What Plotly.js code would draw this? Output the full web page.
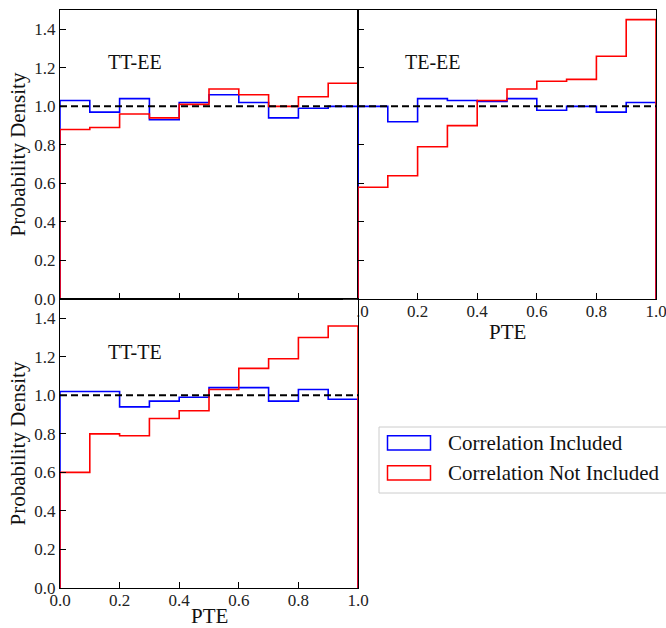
<!DOCTYPE html>
<html>
<head>
<meta charset="utf-8">
<script src="https://cdn.plot.ly/plotly-3.0.1.min.js"></script>
<style>
  html, body { margin: 0; padding: 0; background: #fff; }
  #chart { width: 666px; height: 628px; }
</style>
</head>
<body>
<div id="chart"></div>
<script>
// PTE histogram bin edges (10 bins on [0, 1])
const binEdges = [0.0, 0.1, 0.2, 0.3, 0.4, 0.5, 0.6, 0.7, 0.8, 0.9, 1.0];

// Probability density per bin, correlation included / not included
const ttEeIncluded    = [1.03, 0.97, 1.04, 0.93, 1.02, 1.06, 1.02, 0.94, 0.99, 1.00];
const ttEeNotIncluded = [0.88, 0.89, 0.96, 0.94, 1.01, 1.09, 1.06, 1.00, 1.05, 1.12];

const teEeIncluded    = [1.00, 0.92, 1.04, 1.03, 1.025, 1.04, 0.98, 1.00, 0.97, 1.02];
const teEeNotIncluded = [0.58, 0.64, 0.79, 0.90, 1.03, 1.09, 1.13, 1.14, 1.26, 1.45];

const ttTeIncluded    = [1.02, 1.02, 0.94, 0.97, 0.99, 1.04, 1.04, 0.97, 1.03, 0.98];
const ttTeNotIncluded = [0.60, 0.80, 0.79, 0.88, 0.92, 1.03, 1.14, 1.19, 1.30, 1.36];

const panelLabels = ['TT-EE', 'TE-EE', 'TT-TE'];
const seriesNames = ['Correlation Included', 'Correlation Not Included'];
const yTicks = [0.0, 0.2, 0.4, 0.6, 0.8, 1.0, 1.2, 1.4];
const xTicks = [0.0, 0.2, 0.4, 0.6, 0.8, 1.0];

const BLUE = '#0000ff';
const RED = '#ff0000';
const SERIF = '"Liberation Serif", "DejaVu Serif", serif';

// Outline of a step histogram: rise from zero at the first edge, step across
// each bin, drop back to zero at the last edge.
function stepOutline(values) {
  const n = values.length;
  const x = [binEdges[0]].concat(binEdges.slice(0, n), [binEdges[n], binEdges[n]]);
  const y = [0].concat(values, [values[n - 1], 0]);
  return { x, y };
}

function histTrace(values, color, xa, ya) {
  const o = stepOutline(values);
  return {
    type: 'scatter', mode: 'lines', x: o.x, y: o.y,
    line: { color: color, width: 1.6, shape: 'hv' },
    xaxis: xa, yaxis: ya, showlegend: false, hoverinfo: 'skip'
  };
}

function uniformLine(xa, ya) {
  return {
    type: 'scatter', mode: 'lines',
    x: [binEdges[0], binEdges[binEdges.length - 1]], y: [1, 1],
    line: { color: '#000', width: 2, dash: '7px,4px' },
    xaxis: xa, yaxis: ya, showlegend: false, hoverinfo: 'skip'
  };
}

const panels = [
  { xa: 'x',  ya: 'y',  inc: ttEeIncluded, not: ttEeNotIncluded },
  { xa: 'x2', ya: 'y2', inc: teEeIncluded, not: teEeNotIncluded },
  { xa: 'x3', ya: 'y3', inc: ttTeIncluded, not: ttTeNotIncluded }
];

const data = [];
panels.forEach(p => {
  data.push(histTrace(p.inc, BLUE, p.xa, p.ya));
  data.push(histTrace(p.not, RED, p.xa, p.ya));
  data.push(uniformLine(p.xa, p.ya));
});

// Figure geometry
const W = 666, H = 628;
const M = { l: 60, r: 10, t: 10, b: 40 };
const plotW = W - M.l - M.r, plotH = H - M.t - M.b;
const px = v => (v - M.l) / plotW;          // pixel x -> paper x
const py = v => (H - M.b - v) / plotH;      // pixel y -> paper y

const tickFont = { family: SERIF, size: 17, color: '#222' };
const titleFont = { family: SERIF, size: 21, color: '#111' };

function xAxis(domain, anchor, labels) {
  return {
    domain: domain, anchor: anchor, range: [0, 1],
    tickvals: xTicks, ticktext: xTicks.map(v => v.toFixed(1)),
    ticks: 'inside', ticklen: 6, tickwidth: 1, tickcolor: '#000',
    showticklabels: labels, tickfont: tickFont,
    ticklabeloverflow: 'allow', ticklabelstandoff: -3,
    showline: true, linecolor: '#000', linewidth: 1, mirror: true,
    showgrid: false, zeroline: false,
    title: { text: '' }
  };
}

function yAxis(domain, anchor, labels, withTitle) {
  return {
    domain: domain, anchor: anchor, range: [0, 1.5],
    tickvals: yTicks, ticktext: yTicks.map(v => v.toFixed(1)),
    ticks: 'inside', ticklen: 6, tickwidth: 1, tickcolor: '#000',
    showticklabels: labels, tickfont: tickFont,
    showline: true, linecolor: '#000', linewidth: 1, mirror: true,
    showgrid: false, zeroline: false,
    title: withTitle ? { text: 'Probability Density', font: titleFont, standoff: 2 } : { text: '' }
  };
}

const annotations = [
  { xref: 'x',  yref: 'y',  x: 0.155, y: 1.228, text: panelLabels[0] },
  { xref: 'x2', yref: 'y2', x: 0.150, y: 1.228, text: panelLabels[1] },
  { xref: 'x3', yref: 'y3', x: 0.155, y: 1.223, text: panelLabels[2] }
].map(a => Object.assign(a, {
  xanchor: 'left', yanchor: 'middle', showarrow: false,
  font: { family: SERIF, size: 20, color: '#111' }
}));

// x-axis titles under the two labelled panels
[{ xref: 'x2 domain', yPix: 332 }, { xref: 'x3 domain', yPix: 616 }].forEach(t => {
  annotations.push({
    xref: t.xref, yref: 'paper', x: 0.5, y: py(t.yPix),
    xanchor: 'center', yanchor: 'middle', showarrow: false,
    text: 'PTE', font: titleFont
  });
});

// Legend: outlined patches with serif labels
const legendFont = { family: SERIF, size: 21, color: '#111' };
const legendRows = [
  { color: BLUE, top: 435.7, bottom: 450.0, mid: 443, text: seriesNames[0] },
  { color: RED,  top: 465.7, bottom: 480.0, mid: 473, text: seriesNames[1] }
];

const shapes = [
  {
    type: 'rect', xref: 'paper', yref: 'paper', layer: 'above',
    x0: px(379), x1: px(672), y0: py(493), y1: py(427),
    line: { color: '#cccccc', width: 1 }, fillcolor: 'rgba(255,255,255,0.9)'
  },
  // the lower panel's background hides the left half of the upper-right panel's first x label
  {
    type: 'rect', xref: 'paper', yref: 'paper', layer: 'above',
    x0: px(343), x1: px(357.4), y0: py(318), y1: py(299.8),
    line: { width: 0 }, fillcolor: '#ffffff'
  }
];
legendRows.forEach(r => {
  shapes.push({
    type: 'rect', xref: 'paper', yref: 'paper', layer: 'above',
    x0: px(387.5), x1: px(430.5), y0: py(r.bottom), y1: py(r.top),
    line: { color: r.color, width: 1.5 }, fillcolor: 'rgba(0,0,0,0)'
  });
  annotations.push({
    xref: 'paper', yref: 'paper', x: px(446), y: py(r.mid),
    xanchor: 'left', yanchor: 'middle', showarrow: false,
    text: r.text, font: legendFont
  });
});

const layout = {
  width: W, height: H,
  margin: M,
  paper_bgcolor: '#fff', plot_bgcolor: 'rgba(0,0,0,0)',
  showlegend: false,
  xaxis:  xAxis([0, 0.5], 'y', false),
  yaxis:  yAxis([0.5, 1], 'x', true, true),
  xaxis2: xAxis([0.5, 1], 'y2', true),
  yaxis2: yAxis([0.5, 1], 'x2', false, false),
  xaxis3: xAxis([0, 0.5], 'y3', true),
  yaxis3: yAxis([0, 0.5], 'x3', true, true),
  annotations: annotations,
  shapes: shapes
};

Plotly.newPlot('chart', data, layout, { displayModeBar: false, staticPlot: true });
</script>
</body>
</html>
